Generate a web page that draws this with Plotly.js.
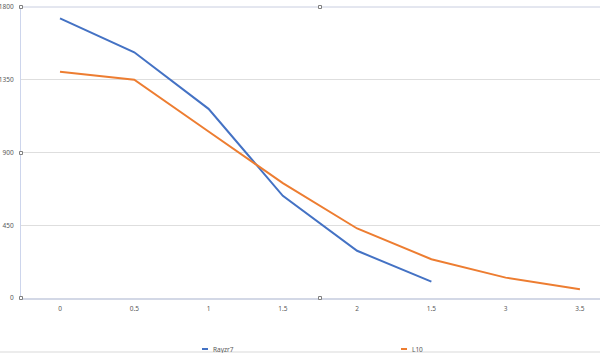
<!DOCTYPE html>
<html>
<head>
<meta charset="utf-8">
<script src="https://cdn.plot.ly/plotly-3.0.1.min.js"></script>
<style>html,body{margin:0;padding:0;background:#fff;}#chart{width:600px;height:353px;}</style>
</head>
<body>
<div id="chart"></div>
<script>
// Category tick labels (as printed on the chart)
const categories = ['0', '0.5', '1', '1.5', '2', '1.5', '3', '3.5'];
// Series
const seriesNames = ['Rayzr7', 'L10'];
const rayzr7 = [1730, 1520, 1170, 632, 292, 101];
const l10 = [1400, 1350, 1030, 711, 430, 240, 126, 54];
const yTicks = [0, 450, 900, 1350, 1800];
const colors = ['#4472C4', '#ED7D31'];

const idx = categories.map((c, i) => i);
const seriesValues = [rayzr7, l10];

const traces = seriesValues.map((vals, s) => ({
  type: 'scatter',
  mode: 'lines',
  name: seriesNames[s],
  x: idx.slice(0, vals.length),
  y: vals,
  line: {color: colors[s], width: 2},
  showlegend: false,
  hoverinfo: 'x+y'
}));

const W = 600, H = 353, ML = 21, MR = 0, MT = 7, MB = 55;
const pw = W - ML - MR, ph = H - MT - MB;
const px = x => (x - ML) / pw;          // pixel -> paper x
const py = y => (MT + ph - y) / ph;     // pixel -> paper y

const FONT = 'Noto Sans, Open Sans, sans-serif';
const shapes = [];
const annotations = [];
// top border of plot area
shapes.push({type: 'line', xref: 'paper', yref: 'paper', x0: 0, x1: 1, y0: 1, y1: 1,
  line: {color: '#c9cee0', width: 1}, layer: 'below'});
// bottom frame line of chart area
shapes.push({type: 'line', xref: 'paper', yref: 'paper', x0: px(0), x1: px(600), y0: py(352), y1: py(352),
  line: {color: '#d9d9d9', width: 1}});
// selection handles
[[21, 7], [320, 7], [21, 153], [320, 298], [21, 298]].forEach(([hx, hy]) => {
  shapes.push({type: 'rect', xref: 'paper', yref: 'paper', xsizemode: 'pixel', ysizemode: 'pixel',
    xanchor: px(hx), yanchor: py(hy), x0: -1.5, x1: 1.5, y0: -1.5, y1: 1.5,
    line: {color: '#808080', width: 1}, fillcolor: '#ffffff'});
});
// legend entries
const legX = [202, 401];
seriesNames.forEach((n, s) => {
  shapes.push({type: 'line', xref: 'paper', yref: 'paper', x0: px(legX[s]), x1: px(legX[s] + 6),
    y0: py(349), y1: py(349), line: {color: colors[s], width: 2}});
  annotations.push({xref: 'paper', yref: 'paper', x: px(legX[s] + 9), y: py(349.5),
    xanchor: 'left', yanchor: 'middle', text: n, showarrow: false,
    font: {family: FONT, size: 6.5, color: '#595959'}});
});

const layout = {
  width: W, height: H,
  margin: {l: ML, r: MR, t: MT, b: MB, pad: 0},
  paper_bgcolor: '#ffffff',
  plot_bgcolor: '#ffffff',
  font: {family: FONT, size: 6.5, color: '#595959'},
  xaxis: {
    range: [-0.525, 7.27],
    tickmode: 'array', tickvals: idx, ticktext: categories,
    showgrid: false, zeroline: false,
    showline: true, linecolor: '#d3d8e6', linewidth: 2,
    ticks: '', ticklabelstandoff: 3,
    tickfont: {family: FONT, size: 6.5, color: '#595959'},
    fixedrange: true
  },
  yaxis: {
    range: [0, 1800],
    tickmode: 'array', tickvals: yTicks, ticktext: yTicks.map(String),
    showgrid: true, gridcolor: '#dedede', gridwidth: 1,
    zeroline: false,
    showline: true, linecolor: '#cdd5ec', linewidth: 1,
    ticks: '', ticklabelstandoff: 5,
    tickfont: {family: FONT, size: 6.5, color: '#595959'},
    fixedrange: true
  },
  shapes: shapes,
  annotations: annotations,
  showlegend: false
};

Plotly.newPlot('chart', traces, layout, {displayModeBar: false, staticPlot: true});
</script>
</body>
</html>
